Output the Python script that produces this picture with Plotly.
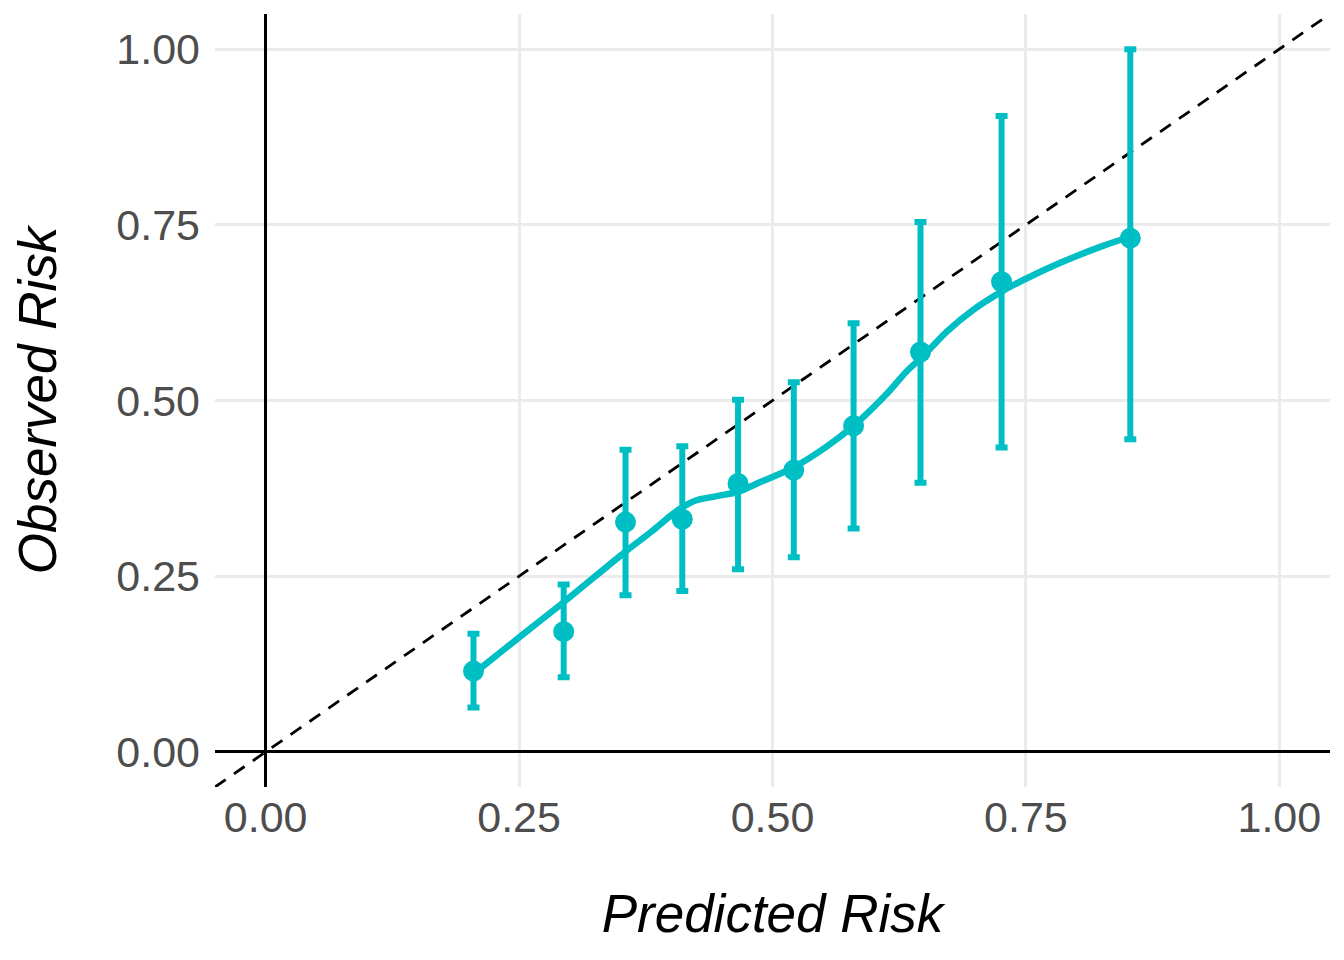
import plotly.graph_objects as go

# calibration groups: mean predicted risk, observed risk and 95% CI
pred_risk = [0.205, 0.294, 0.355, 0.411, 0.466, 0.521, 0.580, 0.646, 0.726, 0.853]
obs_risk = [0.115, 0.171, 0.327, 0.331, 0.382, 0.401, 0.464, 0.569, 0.669, 0.731]
ci_upper = [0.168, 0.238, 0.430, 0.435, 0.501, 0.526, 0.610, 0.754, 0.905, 1.000]
ci_lower = [0.063, 0.106, 0.223, 0.229, 0.260, 0.277, 0.318, 0.383, 0.433, 0.445]

# smoothed calibration curve
smooth_x = [0.205, 0.251, 0.294, 0.355, 0.382, 0.402, 0.411, 0.425, 0.445, 0.466, 0.488,
            0.521, 0.553, 0.580, 0.613, 0.632, 0.647, 0.672, 0.698, 0.726, 0.751, 0.784,
            0.826, 0.853]
smooth_y = [0.111, 0.164, 0.213, 0.285, 0.315, 0.339, 0.348, 0.358, 0.364, 0.370, 0.384,
            0.405, 0.434, 0.464, 0.510, 0.541, 0.561, 0.598, 0.629, 0.655, 0.674, 0.696,
            0.720, 0.733]

# perfect calibration reference
ideal = [-0.05, 1.05]

tick_vals = [0, 0.25, 0.5, 0.75, 1.0]
tick_text = ['0.00', '0.25', '0.50', '0.75', '1.00']

teal = '#00BFC4'
font_family = 'Liberation Sans, Arial, sans-serif'

fig = go.Figure()

fig.add_trace(go.Scatter(x=ideal, y=ideal, mode='lines',
                         line=dict(color='black', width=2.8, dash='13px,10px'),
                         hoverinfo='skip', showlegend=False))

fig.add_trace(go.Scatter(x=smooth_x, y=smooth_y, mode='lines',
                         line=dict(color=teal, width=6.5, shape='spline', smoothing=0.8),
                         showlegend=False))

err_plus = [u - o for u, o in zip(ci_upper, obs_risk)]
err_minus = [o - l for o, l in zip(obs_risk, ci_lower)]

fig.add_trace(go.Scatter(x=pred_risk, y=obs_risk, mode='markers',
                         marker=dict(color=teal, size=21),
                         error_y=dict(type='data', symmetric=False, array=err_plus,
                                      arrayminus=err_minus, color=teal,
                                      thickness=6, width=6),
                         showlegend=False))

axis_common = dict(
    range=[-0.05, 1.05],
    tickvals=tick_vals,
    ticktext=tick_text,
    showgrid=True,
    gridcolor='#EBEBEB',
    gridwidth=2.8,
    zeroline=True,
    zerolinecolor='black',
    zerolinewidth=2.8,
    showline=False,
    ticks='',
    tickfont=dict(family=font_family, size=43, color='#4D4D4D'),
)

# page body adds an 8px offset, so margins are shifted to keep the panel in place
fig.update_layout(
    width=1344, height=960,
    margin=dict(l=207, r=22, t=6, b=181),
    plot_bgcolor='white',
    paper_bgcolor='white',
    font=dict(family=font_family),
    xaxis=dict(axis_common, ticklabelstandoff=1,
               title=dict(text='<i>Predicted Risk</i>', standoff=54,
                          font=dict(family=font_family, size=53, color='black'))),
    yaxis=dict(axis_common, ticklabelstandoff=14,
               title=dict(text='<i>Observed Risk</i>', standoff=60,
                          font=dict(family=font_family, size=53, color='black'))),
)

fig.write_html('out.html')
